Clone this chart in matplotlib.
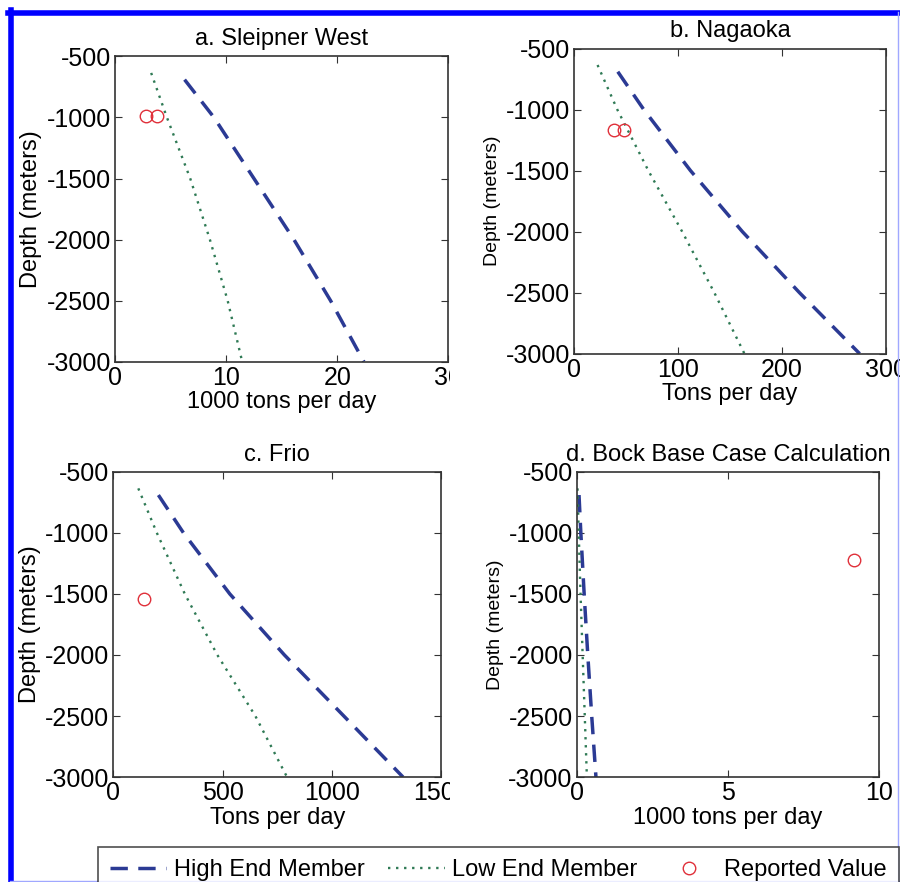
import numpy as np
import matplotlib.pyplot as plt
from matplotlib.lines import Line2D
from matplotlib.transforms import Bbox, TransformedBbox

plt.rcParams['font.family'] = ['Liberation Sans', 'DejaVu Sans']
plt.rcParams['axes.unicode_minus'] = False

# depths (m) for the curves
depth_hi = [-690, -1000, -1500, -2000, -2500, -3000]
depth_lo = [-635, -1000, -1500, -2000, -2500, -3000]

# a. Sleipner West (1000 tons per day)
sleipner_hi = [6.25, 8.9, 12.5, 16.1, 19.4, 22.4]
sleipner_lo = [3.24, 4.66, 6.76, 8.53, 10.13, 11.44]
sleipner_rep_x = [2.8, 3.75]
sleipner_rep_y = [-990, -990]

# b. Nagaoka (tons per day)
nagaoka_hi = [42, 67, 112, 162, 217, 275]
nagaoka_lo = [22.5, 41.5, 71.4, 104, 135, 164]
nagaoka_rep_x = [38, 47.6]
nagaoka_rep_y = [-1165, -1165]

# c. Frio (tons per day)
frio_hi = [206, 321, 533, 783, 1055, 1326]
frio_lo = [114, 199, 327, 476, 650, 795]
frio_rep_x = [142]
frio_rep_y = [-1540]

# d. Bock base case (1000 tons per day)
bock_hi = [0.07, 0.13, 0.24, 0.36, 0.49, 0.63]
bock_lo = [0.02, 0.06, 0.12, 0.19, 0.26, 0.33]
bock_rep_x = [9.15]
bock_rep_y = [-1225]

panels = [
    ('a. Sleipner West', '1000 tons per day', 30, sleipner_hi, sleipner_lo, sleipner_rep_x, sleipner_rep_y,
     [0.128, 0.590, 0.370, 0.346], 17),
    ('b. Nagaoka', 'Tons per day', 300, nagaoka_hi, nagaoka_lo, nagaoka_rep_x, nagaoka_rep_y,
     [0.638, 0.599, 0.346, 0.346], 14),
    ('c. Frio', 'Tons per day', 1500, frio_hi, frio_lo, frio_rep_x, frio_rep_y,
     [0.126, 0.119, 0.364, 0.346], 17),
    ('d. Bock Base Case Calculation', '1000 tons per day', 10, bock_hi, bock_lo, bock_rep_x, bock_rep_y,
     [0.641, 0.119, 0.336, 0.346], 14),
]

blue = '#2b3a94'
green = '#2f7a55'
red = '#e0303a'

fig = plt.figure(figsize=(9, 8.82), dpi=100)

for i, (title, xlab, xmax, hi, lo, rx, ry, pos, ylab_fs) in enumerate(panels):
    ax = fig.add_axes(pos)
    ax.plot(hi, depth_hi, color=blue, lw=2.5, dashes=(5, 3), label='High End Member')
    ax.plot(lo, depth_lo, color=green, lw=1.7, dashes=(1, 2.4), label='Low End Member')
    ax.plot(rx, ry, 'o', mfc='none', mec=red, mew=1.0, ms=9, ls='none', label='Reported Value')
    ax.set_xlim(0, xmax)
    ax.set_ylim(-3000, -500)
    ax.set_xticks(np.linspace(0, xmax, 4 if xmax != 10 else 3))
    ax.set_yticks(np.arange(-3000, -499, 500))
    ax.tick_params(direction='in', top=True, right=True, labelsize=18, length=5, color='#333333',
                   pad=3)
    ax.set_title(title, fontsize=17, pad=8)
    ax.set_xlabel(xlab, fontsize=17, labelpad=1)
    ax.set_ylabel('Depth (meters)', fontsize=ylab_fs, labelpad=3)
    for s in ax.spines.values():
        s.set_color('#333333')
        s.set_linewidth(1.2)
    # left column tick labels are cut at the panel edge
    if i in (0, 2):
        clip = TransformedBbox(Bbox([[0, 0], [0.5, 1]]), fig.transFigure)
        for lab in ax.get_xticklabels():
            lab.set_clip_box(clip)
            lab.set_clip_on(True)
    if i == 0:
        handles, labels = ax.get_legend_handles_labels()

leg = fig.legend(handles, labels, ncol=3, loc='upper left', bbox_to_anchor=(98 / 900, 1 - 847 / 882),
                 bbox_transform=fig.transFigure, fontsize=17, frameon=True, fancybox=False,
                 edgecolor='#222222', handlelength=2.4, handletextpad=0.3, columnspacing=1.0,
                 borderpad=0.5, borderaxespad=0)
leg.get_frame().set_linewidth(1.2)

# blue page frame
fig.add_artist(Line2D([8 / 900, 1], [1 - 12.5 / 882] * 2, color='#0000ff', lw=4, transform=fig.transFigure))
fig.add_artist(Line2D([10.5 / 900] * 2, [0, 1 - 10 / 882], color='#0000ff', lw=4, transform=fig.transFigure))
fig.add_artist(Line2D([898 / 900] * 2, [0, 1 - 12 / 882], color='#a0a8ff', lw=1, transform=fig.transFigure))
fig.add_artist(Line2D([10 / 900, 1], [1.5 / 882] * 2, color='#a0a8ff', lw=1, transform=fig.transFigure))

fig.savefig('out.png', dpi=100)
